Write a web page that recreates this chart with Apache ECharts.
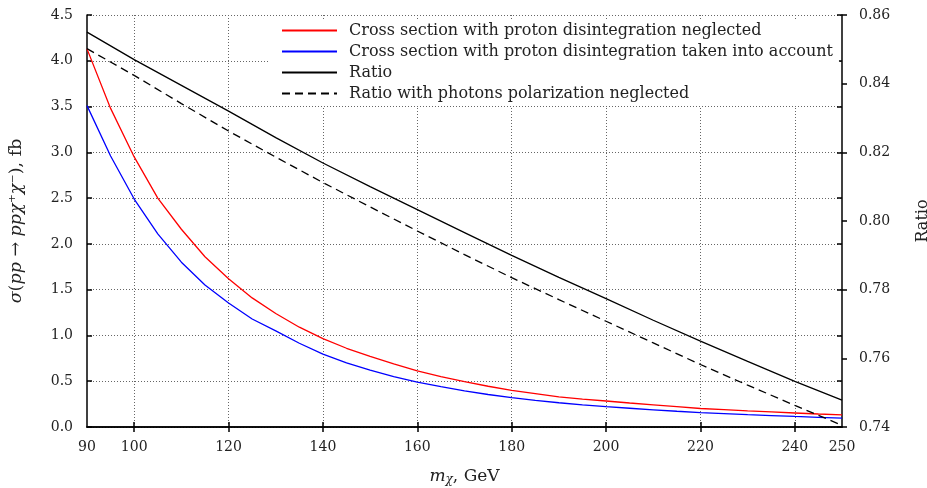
<!DOCTYPE html>
<html>
<head>
  <meta charset="UTF-8">
  <title>Cross section vs m_chi</title>
  <script src="https://cdn.jsdelivr.net/npm/echarts@6/dist/echarts.min.js"></script>
</head>
<body style="margin:0">
  <div id="chart" style="width: 927px; height: 488px"></div>
  <script>
    // значения
    const massX = [90, 95, 100, 105, 110, 115, 120, 125, 130, 135, 140, 145, 150, 155, 160, 165,
      170, 175, 180, 185, 190, 195, 200, 205, 210, 215, 220, 225, 230, 235, 240, 245, 250];
    const sigmaNeglected = [4.13, 3.48, 2.95, 2.50, 2.16, 1.86, 1.62, 1.41, 1.24, 1.09, 0.965, 0.86,
      0.772, 0.69, 0.612, 0.55, 0.495, 0.445, 0.40, 0.365, 0.33, 0.305, 0.284, 0.262, 0.242, 0.222,
      0.202, 0.19, 0.177, 0.165, 0.153, 0.142, 0.132];
    const sigmaTaken = [3.51, 2.96, 2.49, 2.11, 1.80, 1.55, 1.355, 1.18, 1.05, 0.915, 0.795, 0.70,
      0.62, 0.55, 0.49, 0.44, 0.395, 0.355, 0.32, 0.29, 0.265, 0.242, 0.222, 0.205, 0.188, 0.172,
      0.158, 0.146, 0.135, 0.125, 0.115, 0.106, 0.098];

    const ratioX = [90, 100, 110, 120, 130, 140, 150, 160, 170, 180, 190, 200, 210, 220, 230, 240, 250];
    const ratio = [0.8550, 0.8470, 0.8395, 0.8320, 0.8243, 0.8169, 0.8100, 0.8033, 0.7966, 0.7900,
      0.7836, 0.7774, 0.7711, 0.7650, 0.7591, 0.7533, 0.7478];
    const ratioNoPol = [0.8502, 0.8424, 0.8342, 0.8262, 0.8186, 0.8112, 0.8041, 0.7971, 0.7902,
      0.7835, 0.7771, 0.7708, 0.7645, 0.7582, 0.7522, 0.7463, 0.7405];

    const xTickLabels = [90, 100, 120, 140, 160, 180, 200, 220, 240, 250];
    const xGridValues = [100, 120, 140, 160, 180, 200, 220, 240];

    const legendNames = [
      'Cross section with proton disintegration neglected',
      'Cross section with proton disintegration taken into account',
      'Ratio',
      'Ratio with photons polarization neglected'
    ];

    const font = 'DejaVu Serif';
    const dotted = { color: '#666', width: 1, type: [1, 2] };
    const frame = { color: '#000', width: 1.5 };

    const zip = (xs, ys) => xs.map((x, i) => [x, ys[i]]);

    const myChart = echarts.init(document.getElementById('chart'));
    const option = {
      animation: false,
      backgroundColor: '#fff',
      grid: { left: 87, right: 85, top: 15, bottom: 61, containLabel: false, outerBoundsMode: 'none' },
      legend: {
        orient: 'vertical',
        left: 268,
        top: 20,
        padding: [2, 6, 4, 13],
        itemWidth: 55,
        itemHeight: 14,
        itemGap: 4,
        backgroundColor: '#fff',
        itemStyle: { color: 'transparent', borderWidth: 0, opacity: 0 },
        data: legendNames,
        textStyle: { fontFamily: font, fontSize: 16, color: '#222', lineHeight: 17, padding: [0, 0, 0, 7] }
      },
      xAxis: [
        {
          type: 'value', min: 90, max: 250, interval: 10, position: 'bottom',
          name: '{i|m}{s|χ}, GeV',
          nameLocation: 'middle', nameGap: 40,
          nameTextStyle: {
            fontFamily: font, fontSize: 17, color: '#222',
            rich: {
              i: { fontFamily: font, fontStyle: 'italic', fontSize: 17, color: '#222' },
              s: { fontFamily: font, fontStyle: 'italic', fontSize: 12, color: '#222', padding: [7, 0, 0, 0] }
            }
          },
          axisLine: { lineStyle: frame },
          axisTick: { inside: true, length: 5, customValues: xGridValues, lineStyle: frame },
          axisLabel: { customValues: xTickLabels, fontFamily: font, fontSize: 14, color: '#222', margin: 13 },
          splitLine: { show: true, lineStyle: dotted }
        },
        {
          type: 'value', min: 90, max: 250, interval: 10, position: 'top',
          axisLine: { lineStyle: frame },
          axisTick: { inside: true, length: 5, customValues: xGridValues, lineStyle: frame },
          axisLabel: { show: false },
          splitLine: { show: false }
        }
      ],
      yAxis: [
        {
          type: 'value', min: 0, max: 4.5, interval: 0.5, position: 'left',
          name: '{i|σ}({i|pp} → {i|ppχ}⁺{i|χ}⁻), fb',
          nameLocation: 'middle', nameGap: 62, nameRotate: 90,
          nameTextStyle: {
            fontFamily: font, fontSize: 17.5, color: '#222',
            rich: {
              i: { fontFamily: font, fontStyle: 'italic', fontSize: 17.5, color: '#222' }
            }
          },
          axisLine: { show: true, lineStyle: frame },
          axisTick: { show: true, inside: true, length: 5, lineStyle: frame },
          axisLabel: { fontFamily: font, fontSize: 14, color: '#222', margin: 14, formatter: v => v.toFixed(1) },
          splitLine: { show: true, lineStyle: dotted }
        },
        {
          type: 'value', min: 0.74, max: 0.86, interval: 0.02, position: 'right',
          name: 'Ratio',
          nameLocation: 'middle', nameGap: 73, nameRotate: 90,
          nameTextStyle: { fontFamily: font, fontSize: 16, color: '#222' },
          axisLine: { show: true, lineStyle: frame },
          axisTick: { show: true, inside: false, length: 5, lineStyle: frame },
          axisLabel: { fontFamily: font, fontSize: 14, color: '#222', margin: 17, formatter: v => v.toFixed(2) },
          splitLine: { show: false }
        },
        {
          // зеркальные засечки левой оси
          type: 'value', min: 0, max: 4.5, interval: 0.5, position: 'right',
          axisLine: { show: false },
          axisTick: { show: true, inside: true, length: 5, lineStyle: frame },
          axisLabel: { show: false },
          splitLine: { show: false }
        }
      ],
      series: [
        {
          name: legendNames[0], type: 'line', yAxisIndex: 0, showSymbol: false, symbol: 'none',
          lineStyle: { color: '#ff0000', width: 1.3 }, itemStyle: { color: '#ff0000' },
          data: zip(massX, sigmaNeglected)
        },
        {
          name: legendNames[1], type: 'line', yAxisIndex: 0, showSymbol: false, symbol: 'none',
          lineStyle: { color: '#0000ff', width: 1.3 }, itemStyle: { color: '#0000ff' },
          data: zip(massX, sigmaTaken)
        },
        {
          name: legendNames[2], type: 'line', yAxisIndex: 1, showSymbol: false, symbol: 'none',
          lineStyle: { color: '#000', width: 1.3 }, itemStyle: { color: '#000' },
          data: zip(ratioX, ratio)
        },
        {
          name: legendNames[3], type: 'line', yAxisIndex: 1, showSymbol: false, symbol: 'none',
          lineStyle: { color: '#000', width: 1.3, type: [8, 5] }, itemStyle: { color: '#000' },
          data: zip(ratioX, ratioNoPol)
        }
      ]
    };
    myChart.setOption(option);
  </script>
</body>
</html>
